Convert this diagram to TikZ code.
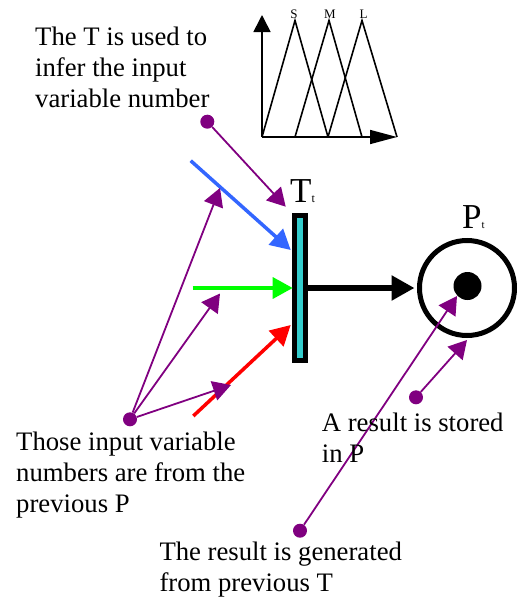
\documentclass[tikz,border=0pt]{standalone}
\usepackage{fontspec}
\setmainfont{Liberation Serif}
\usetikzlibrary{arrows.meta}
\definecolor{pur}{HTML}{800080}
\definecolor{bluA}{HTML}{3366FF}
\definecolor{grnA}{HTML}{00FF00}
\definecolor{redA}{HTML}{FF0000}
\definecolor{tealA}{HTML}{33CCCC}
\begin{document}
\begin{tikzpicture}[x=1pt,y=-1pt,
  lbl/.style={anchor=base west, inner sep=0, align=left, font=\fontsize{26.7}{31}\selectfont},
  pa/.style={draw=pur, line width=1.8pt, -{Triangle[length=18pt,width=20pt]}},
  dotn/.style={circle, fill=pur, inner sep=0, minimum size=14pt},
  ca/.style={line width=3.5pt, -{Triangle[length=20pt,width=21pt]}},
  fz/.style={line width=1.6pt},
  sml/.style={anchor=base, inner sep=0, font=\fontsize{13}{13}\selectfont}]
\useasboundingbox (0,0) rectangle (517,597);

% fuzzy membership chart
\coordinate (o) at (262,137);
\coordinate (ytop) at (262,15);
\coordinate (xend) at (397,137);
\coordinate (s1) at (295,137);
\coordinate (s2) at (328,137);
\coordinate (s3) at (362,137);
\coordinate (pS) at (295,20.5);
\coordinate (pM) at (329,20.5);
\coordinate (pL) at (362,20.5);
\draw[fz] (o) -- (pS) -- (s2);
\draw[fz] (s1) -- (pM) -- (s3);
\draw[fz] (s2) -- (pL) -- (xend);
\draw[fz, -{Triangle[length=17pt,width=17pt]}] (o) -- (ytop);
\draw[fz, -{Triangle[length=27pt,width=14pt]}] (o) -- (xend);
\node[sml] (lS) at (294,18) {S};
\node[sml] (lM) at (330,18) {M};
\node[sml] (lL) at (363.5,18) {L};

% transition and place
\node[draw=black, line width=5pt, fill=tealA, minimum width=11.6pt, minimum height=145.6pt, inner sep=0] (T) at (300,288) {};
\node[draw=black, line width=5pt, circle, minimum size=95pt, inner sep=0] (P) at (467,288) {};
\node[circle, fill=black, minimum size=28pt, inner sep=0] (tok) at (467.5,286) {};
\node[anchor=base west, inner sep=0, font=\fontsize{35}{35}\selectfont] (Tl) at (290,202) {T\fontsize{12}{12}\selectfont t};
\node[anchor=base west, inner sep=0, font=\fontsize{35}{35}\selectfont] (Pl) at (462,228) {P\fontsize{11}{11}\selectfont t};

\draw[line width=5.5pt, -{Triangle[length=23pt,width=24pt]}] (T.east) -- ([xshift=-2.5pt]P.west);

% coloured input arcs
\coordinate (bS) at (190.7,160.7);
\coordinate (gS) at (192.7,288);
\coordinate (rS) at (193.3,416);
\draw[ca, bluA] (bS) -- ([xshift=-1pt,yshift=38pt]T.west);
\draw[ca, grnA] (gS) -- ([xshift=1pt]T.west);
\draw[ca, redA] (rS) -- ([xshift=-1pt,yshift=-37pt]T.west);

% annotation dots and arrows
\node[dotn] (d1) at (207.3,121.7) {};
\node[dotn] (d2) at (130,419.3) {};
\node[dotn] (d3) at (300,530.7) {};
\node[dotn] (d4) at (416,397.3) {};
\coordinate (e1) at (220,188);
\coordinate (e2) at (220,293.5);
\coordinate (e3) at (231,385);
\coordinate (e4) at (457,296);
\draw[pa] (d1) -- ([xshift=-6pt,yshift=6pt]T.north west);
\draw[pa] (d2) -- (e1);
\draw[pa] (d2) -- (e2);
\draw[pa] (d2) -- (e3);
\draw[pa] (d3) -- (e4);
\draw[pa] (d4) -- ([yshift=-2pt]P.south);

% texts (base anchor = last line)
\node[lbl] (t1) at (35,107) {The T is used to\\infer the input\\variable number};
\node[lbl] (t2) at (16,512) {Those input variable\\numbers are from the\\previous P};
\node[lbl] (t3) at (321.7,462) {A result is stored\\in P};
\node[lbl] (t4) at (159.3,591.7) {The result is generated\\from previous T};
\end{tikzpicture}
\end{document}
